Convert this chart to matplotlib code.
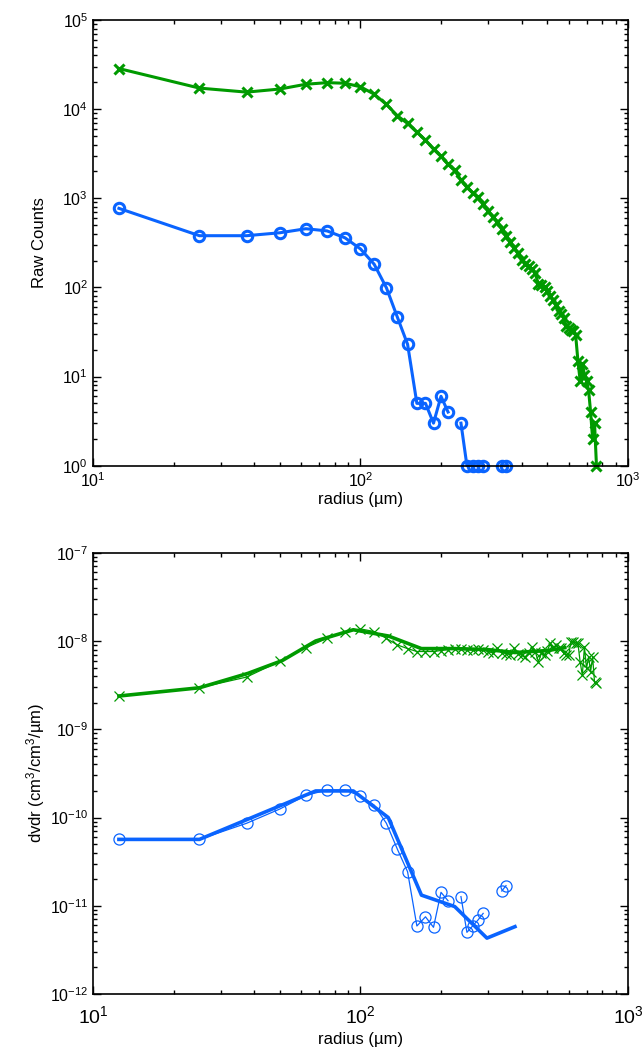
import numpy as np
import matplotlib
matplotlib.use("Agg")
import matplotlib.pyplot as plt
from matplotlib.ticker import LogLocator, FixedLocator, NullFormatter

plt.rcParams['font.family'] = ['Liberation Sans', 'DejaVu Sans']
plt.rcParams['mathtext.fontset'] = 'custom'
plt.rcParams['mathtext.rm'] = 'Liberation Sans'
plt.rcParams['mathtext.it'] = 'Liberation Sans:italic'
plt.rcParams['mathtext.default'] = 'regular'

GREEN = '#009a00'
BLUE = '#0a64ff'

# radius bins (um)
r_green = 12.5 * np.arange(1, 62)
r_blue = 12.5 * np.arange(1, 29)

# top panel: raw counts
counts_green = [28500, 17200, 15500, 16800, 19000, 19800, 19500, 17800, 14700, 11300,
                8400, 6900, 5500, 4500, 3550, 2950, 2400, 2050, 1600, 1320,
                1150, 1020, 860, 725, 620, 545, 450, 375, 325, 280,
                240, 205, 185, 175, 160, 145, 108, 105, 100, 92,
                80, 72, 63, 55, 50, 45, 37, 35, 33, 32,
                29, 15, 9, 14, 10.5, 9, 7, 4, 2, 3, 1]
counts_blue = [770, 380, 380, 410, 455, 430, 360, 270, 182, 99,
               46, 23, 5, 5, 3, 6, 4, np.nan, 3, 1,
               1, 1, 1, np.nan, np.nan, np.nan, 1, 1]

# bottom panel: dv/dr per bin
dvdr_green = [2.38e-9, 2.95e-9, 3.9e-9, 5.9e-9, 8.4e-9, 1.07e-8, 1.26e-8, 1.37e-8, 1.28e-8, 1.07e-8,
              9.0e-9, 8.2e-9, 7.6e-9, 7.6e-9, 7.6e-9, 7.8e-9, 8.0e-9, 8.2e-9, 8.1e-9, 8.0e-9,
              8.0e-9, 8.2e-9, 7.9e-9, 7.6e-9, 7.3e-9, 8.3e-9, 7.4e-9, 7.2e-9, 7.0e-9, 8.3e-9,
              7.2e-9, 6.9e-9, 6.6e-9, 7.3e-9, 8.6e-9, 7.6e-9, 5.8e-9, 7.3e-9, 6.9e-9, 7.8e-9,
              9.4e-9, 8.3e-9, 9.0e-9, 8.3e-9, 8.3e-9, 7.3e-9, 7.0e-9, 6.9e-9, 9.8e-9, 9.8e-9,
              9.6e-9, 9.4e-9, 5.8e-9, 4.1e-9, 8.6e-9, 4.9e-9, 6.6e-9, 4.5e-9, 6.6e-9, 3.4e-9, 3.3e-9]
dvdr_blue = [5.65e-11, 5.65e-11, 8.6e-11, 1.25e-10, 1.78e-10, 2.05e-10, 2.05e-10, 1.75e-10, 1.38e-10, 8.6e-11,
             4.35e-11, 2.43e-11, 5.9e-12, 7.5e-12, 5.7e-12, 1.42e-11, 1.14e-11, np.nan, 1.27e-11, 5.0e-12,
             5.9e-12, 6.9e-12, 8.2e-12, np.nan, np.nan, np.nan, 1.47e-11, 1.69e-11]

# smoothed (log-binned) curves
r_smooth_green = [12.5, 25, 38, 51, 68, 94, 127, 169, 225, 297, 378, 503, 580]
dvdr_smooth_green = [2.38e-9, 2.95e-9, 4.3e-9, 6.0e-9, 1.0e-8, 1.34e-8, 1.14e-8, 8.2e-9, 8.2e-9, 8.0e-9, 7.4e-9, 7.8e-9, 8.4e-9]
r_smooth_blue = [12.5, 25, 68, 94, 127, 169, 225, 297, 378]
dvdr_smooth_blue = [5.65e-11, 5.65e-11, 2.0e-10, 2.0e-10, 1.0e-10, 1.32e-11, 9.8e-12, 4.3e-12, 5.8e-12]


def style_axis(ax, ymin, ymax, xfs, yfs, xpad):
    ax.set_xscale('log')
    ax.set_yscale('log')
    ax.set_xlim(10, 1000)
    ax.set_ylim(10.0 ** ymin, 10.0 ** ymax)
    ax.xaxis.set_major_locator(FixedLocator([10, 100, 1000]))
    ax.xaxis.set_minor_locator(LogLocator(base=10, subs=np.arange(2, 10), numticks=20))
    ax.yaxis.set_major_locator(FixedLocator([10.0 ** e for e in range(ymin, ymax + 1)]))
    ax.yaxis.set_minor_locator(LogLocator(base=10, subs=np.arange(2, 10), numticks=30))
    ax.xaxis.set_minor_formatter(NullFormatter())
    ax.yaxis.set_minor_formatter(NullFormatter())
    ax.set_xticklabels([r'$10^{1}$', r'$10^{2}$', r'$10^{3}$'], fontsize=xfs)
    ax.set_yticklabels([r'$10^{%d}$' % e for e in range(ymin, ymax + 1)], fontsize=yfs)
    ax.tick_params(which='both', direction='in', top=True, right=True, width=1)
    ax.tick_params(which='major', length=6)
    ax.tick_params(which='minor', length=3)
    ax.tick_params(axis='x', which='major', pad=xpad)
    for s in ax.spines.values():
        s.set_linewidth(1.2)


fig = plt.figure(figsize=(6.44, 10.5), dpi=100)

ax1 = fig.add_axes([0.1444, 0.5565, 0.8307, 0.4245])
ax1.plot(r_green, counts_green, color=GREEN, lw=2.2, marker='x', ms=7, mew=2.2, clip_on=False)
ax1.plot(r_blue, counts_blue, color=BLUE, lw=2.2, marker='o', ms=7.5, mew=2.2,
         markerfacecolor='none', clip_on=False)
style_axis(ax1, 0, 5, 11.5, 11.5, 4)
ax1.set_xlabel(u'radius (\u00b5m)', fontsize=12)
ax1.set_ylabel('Raw Counts', fontsize=12)
ax1.xaxis.set_label_coords(0.5, -0.058)
ax1.yaxis.set_label_coords(-0.086, 0.5)

ax2 = fig.add_axes([0.1444, 0.0533, 0.8307, 0.4203])
ax2.plot(r_green, dvdr_green, color=GREEN, lw=0.9, marker='x', ms=7, mew=0.9)
ax2.plot(r_smooth_green, dvdr_smooth_green, color=GREEN, lw=2.6)
ax2.plot(r_blue, dvdr_blue, color=BLUE, lw=0.9, marker='o', ms=8, mew=0.9, markerfacecolor='none')
ax2.plot(r_smooth_blue, dvdr_smooth_blue, color=BLUE, lw=2.6)
style_axis(ax2, -12, -7, 14, 11.5, 8)
ax2.set_xlabel(u'radius (\u00b5m)', fontsize=12)
ax2.set_ylabel(u'dvdr (cm$^3$/cm$^3$/\u00b5m)', fontsize=12)
ax2.xaxis.set_label_coords(0.5, -0.086)
ax2.yaxis.set_label_coords(-0.086, 0.5)

fig.savefig('out.png', dpi=100)
